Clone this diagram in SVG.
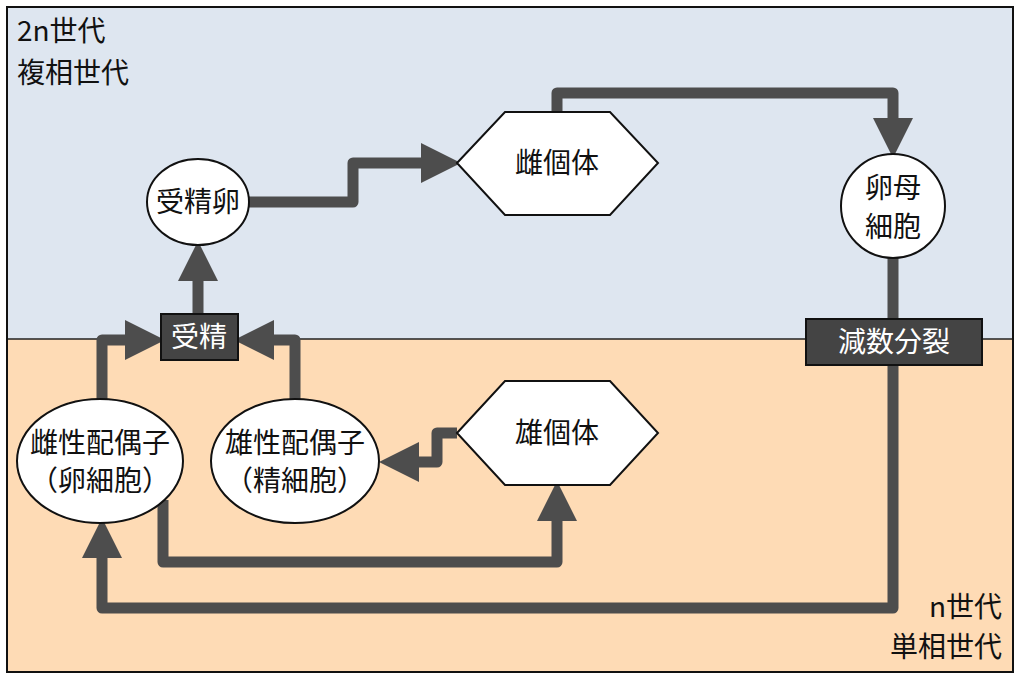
<svg xmlns="http://www.w3.org/2000/svg" width="1020" height="680" viewBox="0 0 1020 680">
<style>
text{font-family:"Noto Sans CJK JP","Noto Sans",sans-serif;font-size:28px;fill:#111}
.c{text-anchor:middle}
.w{fill:#fff}
.n{fill:#fff;stroke:#111;stroke-width:2}
.b{fill:#444;stroke:#111;stroke-width:2}
.e{fill:none;stroke:#4d4d4d;stroke-width:11;stroke-linejoin:round}
</style>
<defs>
<marker id="a" markerUnits="userSpaceOnUse" markerWidth="40" markerHeight="40" viewBox="0 -18 36 36" refX="0" refY="0" orient="auto"><path d="M0,-18L36,0L0,18Z" fill="#4d4d4d"/></marker>
</defs>
<rect x="7" y="7" width="1006" height="332" fill="#dee6f0"/>
<rect x="7" y="339" width="1006" height="333" fill="#fedbb5"/>
<line x1="7" y1="339" x2="1013" y2="339" stroke="#222" stroke-width="1.5"/>
<rect x="7" y="7" width="1006" height="665" fill="none" stroke="#111" stroke-width="2"/>
<text x="17" y="41">2n世代</text>
<text x="17" y="83">複相世代</text>
<text x="1002" y="617" text-anchor="end">n世代</text>
<text x="1002" y="657" text-anchor="end">単相世代</text>
<g id="edges">
<path class="e" d="M249,202H353V163H421" marker-end="url(#a)"/>
<path class="e" d="M198,314V281" marker-end="url(#a)"/>
<path class="e" d="M102,400V340H125" marker-end="url(#a)"/>
<path class="e" d="M295,400V340H274" marker-end="url(#a)"/>
<path class="e" d="M557,112V93H893V118" marker-end="url(#a)"/>
<path class="e" d="M893,258V608H102V558" marker-end="url(#a)"/>
<path class="e" d="M457,433H437V462H419" marker-end="url(#a)"/>
<path class="e" d="M163,500V562H557V521" marker-end="url(#a)"/>
</g>
<g id="n-jusei-ran"><ellipse class="n" cx="198" cy="202" rx="51" ry="43"/><text class="c" x="198" y="212">受精卵</text></g>
<g id="n-jusei"><rect class="b" x="161" y="314" width="77" height="46"/><text class="c w" x="199" y="347">受精</text></g>
<g id="n-shikotai"><polygon class="n" points="457,163 505,112 610,112 658,163 610,215 505,215"/><text class="c" x="557" y="173">雌個体</text></g>
<g id="n-ranbo"><circle class="n" cx="893" cy="206" r="52"/><text class="c" x="893" y="198">卵母</text><text class="c" x="893" y="237">細胞</text></g>
<g id="n-gensu"><rect class="b" x="806" y="319" width="176" height="46"/><text class="c w" x="894" y="352">減数分裂</text></g>
<g id="n-yukotai"><polygon class="n" points="457,433 505,381 610,381 658,433 610,485 505,485"/><text class="c" x="557" y="443">雄個体</text></g>
<g id="n-shi-haigu"><ellipse class="n" cx="100" cy="461" rx="83" ry="62"/><text class="c" x="100" y="453">雌性配偶子</text><text class="c" x="100" y="491">（卵細胞）</text></g>
<g id="n-yu-haigu"><ellipse class="n" cx="295" cy="461" rx="84" ry="62"/><text class="c" x="295" y="453">雄性配偶子</text><text class="c" x="295" y="491">（精細胞）</text></g>
</svg>
